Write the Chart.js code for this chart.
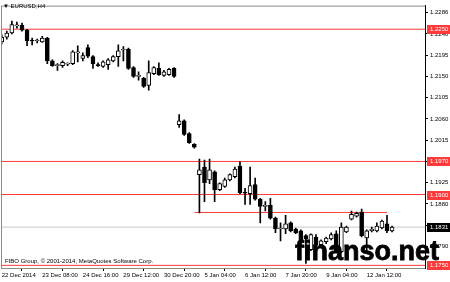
<!DOCTYPE html>
<html>
<head>
<meta charset="utf-8">
<script src="https://cdn.jsdelivr.net/npm/chart.js@4.4.1/dist/chart.umd.min.js"></script>
<style>
  html, body { margin: 0; padding: 0; background: #fff; }
  #wrap { position: relative; width: 450px; height: 282px; overflow: hidden; }
  #chart { display: block; }
  .txt { position: absolute; font-family: "Liberation Sans", Arial, sans-serif; color: #000; white-space: nowrap; line-height: 1; }
  #symbol { left: 3px; top: 3px; font-size: 6px; }
  #copy { left: 5px; top: 258px; font-size: 6px; }
  #mark { left: 295px; top: 238px; font-size: 27px; font-weight: bold; -webkit-text-stroke: 0.8px #000; }
</style>
</head>
<body>
<div id="wrap">
  <canvas id="chart" width="450" height="282"></canvas>
  <div class="txt" id="symbol">▼ EURUSD,H4</div>
  <div class="txt" id="copy">FIBO Group, © 2001-2014, MetaQuotes Software Corp.</div>
  <div class="txt" id="mark">finanso.net</div>
</div>
<script>
// EURUSD H4, 22 Dec 2014 - 13 Jan 2015
const tickLabels = ['22 Dec 2014', '23 Dec 08:00', '24 Dec 16:00', '29 Dec 12:00', '30 Dec 20:00',
  '5 Jan 04:00', '6 Jan 12:00', '7 Jan 20:00', '9 Jan 04:00', '12 Jan 12:00'];
const barsPerLabel = 8;

const opens = [1.2223, 1.2233, 1.2242, 1.2257, 1.2258, 1.2248, 1.2227, 1.2225, 1.2223, 1.2231,
  1.2183, 1.2173, 1.2173, 1.2176, 1.2177, 1.2200, 1.2188, 1.2211, 1.2192, 1.2174,
  1.2171, 1.2175, 1.2183, 1.2192, 1.2206, 1.2208, 1.2169, 1.2150, 1.2146, 1.2131,
  1.2156, 1.2167, 1.2152, 1.2154, 1.2167, 1.2048, 1.2056, 1.2029, 1.2006, 1.1942,
  1.1958, 1.1931, 1.1948, 1.1910, 1.1917, 1.1931, 1.1938, 1.1960, 1.1904, 1.1902,
  1.1921, 1.1890, 1.1875, 1.1877, 1.1850, 1.1827, 1.1827, 1.1840, 1.1827, 1.1823,
  1.1813, 1.1783, 1.1810, 1.1794, 1.1800, 1.1806, 1.1817, 1.1779, 1.1821, 1.1848,
  1.1854, 1.1863, 1.1808, 1.1823, 1.1823, 1.1829, 1.1838, 1.1823];
const highs = [1.2238, 1.2246, 1.2267, 1.2265, 1.2263, 1.2250, 1.2231, 1.2229, 1.2235, 1.2233,
  1.2185, 1.2177, 1.2183, 1.2179, 1.2205, 1.2215, 1.2200, 1.2217, 1.2194, 1.2179,
  1.2183, 1.2188, 1.2194, 1.2217, 1.2213, 1.2210, 1.2171, 1.2160, 1.2148, 1.2183,
  1.2171, 1.2179, 1.2163, 1.2167, 1.2169, 1.2069, 1.2058, 1.2031, 1.2008, 1.1975,
  1.1973, 1.1975, 1.1950, 1.1925, 1.1935, 1.1944, 1.1958, 1.1969, 1.1913, 1.1958,
  1.1935, 1.1892, 1.1885, 1.1892, 1.1852, 1.1840, 1.1856, 1.1842, 1.1829, 1.1825,
  1.1815, 1.1817, 1.1815, 1.1804, 1.1810, 1.1819, 1.1823, 1.1840, 1.1833, 1.1865,
  1.1863, 1.1869, 1.1825, 1.1831, 1.1840, 1.1846, 1.1856, 1.1833];
const lows = [1.2219, 1.2229, 1.2240, 1.2252, 1.2246, 1.2215, 1.2217, 1.2221, 1.2222, 1.2177,
  1.2171, 1.2163, 1.2169, 1.2173, 1.2175, 1.2181, 1.2183, 1.2190, 1.2167, 1.2171,
  1.2169, 1.2165, 1.2181, 1.2171, 1.2183, 1.2165, 1.2148, 1.2142, 1.2127, 1.2121,
  1.2154, 1.2152, 1.2150, 1.2152, 1.2148, 1.2042, 1.2025, 1.2008, 1.1998, 1.1861,
  1.1885, 1.1923, 1.1885, 1.1908, 1.1915, 1.1929, 1.1935, 1.1902, 1.1879, 1.1879,
  1.1888, 1.1840, 1.1865, 1.1848, 1.1819, 1.1802, 1.1817, 1.1821, 1.1817, 1.1794,
  1.1754, 1.1781, 1.1790, 1.1790, 1.1796, 1.1804, 1.1777, 1.1777, 1.1819, 1.1846,
  1.1852, 1.1810, 1.1781, 1.1821, 1.1821, 1.1827, 1.1819, 1.1821];
const closes = [1.2233, 1.2242, 1.2260, 1.2259, 1.2248, 1.2225, 1.2225, 1.2227, 1.2231, 1.2183,
  1.2173, 1.2174, 1.2180, 1.2178, 1.2202, 1.2201, 1.2194, 1.2193, 1.2177, 1.2173,
  1.2181, 1.2185, 1.2192, 1.2204, 1.2207, 1.2167, 1.2150, 1.2151, 1.2129, 1.2158,
  1.2169, 1.2154, 1.2160, 1.2165, 1.2150, 1.2056, 1.2027, 1.2010, 1.2000, 1.1952,
  1.1925, 1.1952, 1.1910, 1.1923, 1.1931, 1.1942, 1.1954, 1.1904, 1.1903, 1.1919,
  1.1890, 1.1875, 1.1876, 1.1850, 1.1827, 1.1828, 1.1838, 1.1823, 1.1819, 1.1798,
  1.1806, 1.1815, 1.1792, 1.1802, 1.1808, 1.1815, 1.1779, 1.1831, 1.1831, 1.1858,
  1.1860, 1.1813, 1.1823, 1.1827, 1.1833, 1.1844, 1.1823, 1.1831];

const yTicks = [1.2286, 1.2240, 1.2195, 1.2150, 1.2105, 1.2060, 1.2015, 1.1970, 1.1925, 1.1880, 1.1835, 1.1790];
const redLevels = [1.2250, 1.1970, 1.1900, 1.1750];
const lastPrice = 1.1831;
const supportLevel = 1.1862;
const supportBars = [38, 76];

const FONT = '"Liberation Sans", Arial, sans-serif';
const RED = '#ff3a3a';
const xMin = -0.14, xMax = 83.5;

const idx = closes.map((_, i) => i);
const hline = v => [{ x: xMin, y: v }, { x: xMax, y: v }];

const lineStyle = { type: 'line', borderWidth: 1, pointRadius: 0, fill: false };

// price tags on the right axis
const levelTags = {
  id: 'levelTags',
  afterDraw(chart) {
    const { ctx, chartArea: a, scales: { y } } = chart;
    ctx.save();
    ctx.strokeStyle = '#8c8c8c';
    ctx.lineWidth = 1;
    ctx.beginPath();
    ctx.moveTo(a.left + 0.5, a.top + 0.5);
    ctx.lineTo(a.right, a.top + 0.5);
    ctx.moveTo(a.left + 0.5, a.top);
    ctx.lineTo(a.left + 0.5, a.bottom);
    ctx.stroke();
    const tags = redLevels.map(v => [v, RED]).concat([[lastPrice, '#000']]);
    ctx.font = '6px ' + FONT;
    ctx.textBaseline = 'middle';
    tags.forEach(([v, bg]) => {
      const py = Math.round(y.getPixelForValue(v));
      ctx.fillStyle = bg;
      ctx.fillRect(a.right + 2, py - 4, 23, 9);
      ctx.fillStyle = '#fff';
      ctx.fillText(v.toFixed(4), a.right + 5, py + 0.5);
    });
    ctx.restore();
  }
};

new Chart(document.getElementById('chart'), {
  type: 'bar',
  data: {
    datasets: [
      {
        type: 'bar',
        data: idx.map(i => ({ x: i, y: [opens[i], closes[i]] })),
        backgroundColor: idx.map(i => closes[i] >= opens[i] ? '#fff' : '#000'),
        borderColor: '#000',
        borderWidth: 1,
        borderSkipped: false,
        barThickness: 4,
        minBarLength: 1,
        grouped: false,
        order: 0
      },
      {
        type: 'bar',
        data: idx.map(i => ({ x: i, y: [lows[i], highs[i]] })),
        backgroundColor: '#000',
        barThickness: 1,
        grouped: false,
        order: 1
      },
      ...redLevels.map(v => ({ ...lineStyle, data: hline(v), borderColor: RED, order: 2 })),
      { ...lineStyle, data: supportBars.map(b => ({ x: b, y: supportLevel })), borderColor: RED, order: 2 },
      { ...lineStyle, data: hline(lastPrice), borderColor: '#c8c8c8', order: 3 }
    ]
  },
  options: {
    responsive: false,
    animation: false,
    devicePixelRatio: 1,
    layout: { padding: { left: 1, top: 1, right: 0, bottom: 0 } },
    plugins: { legend: { display: false }, tooltip: { enabled: false } },
    scales: {
      x: {
        type: 'linear',
        min: xMin,
        max: xMax,
        offset: false,
        afterBuildTicks: s => { s.ticks = tickLabels.map((_, k) => ({ value: k * barsPerLabel })); },
        afterFit: s => { s.height = 14; },
        ticks: {
          autoSkip: false,
          maxRotation: 0,
          align: 'start',
          padding: 1,
          color: '#000',
          font: { family: FONT, size: 6 },
          callback: v => tickLabels[Math.round(v / barsPerLabel)]
        },
        grid: { drawOnChartArea: false, tickLength: 3, color: '#000' },
        border: { display: true, color: '#8c8c8c' }
      },
      y: {
        type: 'linear',
        position: 'right',
        min: 1.17444,
        max: 1.2300,
        afterBuildTicks: s => { s.ticks = yTicks.map(v => ({ value: v })); },
        afterFit: s => { s.width = 25; },
        ticks: {
          autoSkip: false,
          padding: 2,
          color: '#000',
          font: { family: FONT, size: 6 },
          callback: v => v.toFixed(4)
        },
        grid: { drawOnChartArea: false, tickLength: 3, color: '#000' },
        border: { display: true, color: '#000' }
      }
    }
  },
  plugins: [levelTags]
});
</script>
</body>
</html>
